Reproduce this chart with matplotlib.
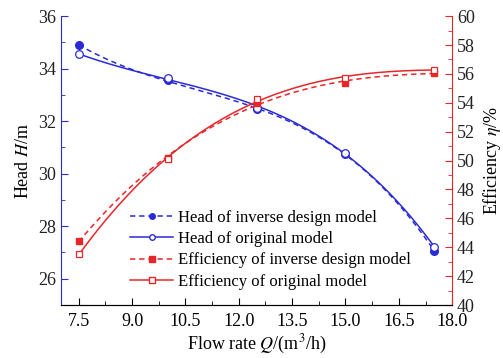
import numpy as np
import matplotlib.pyplot as plt
from matplotlib.lines import Line2D
from matplotlib.ticker import MultipleLocator

plt.rcParams['font.family'] = ['Liberation Serif', 'DejaVu Serif']
plt.rcParams['mathtext.fontset'] = 'stix'

# flow rate points (m3/h)
flow = [7.5, 10.0, 12.5, 15.0, 17.5]

# head (m)
head_inverse = [34.9, 33.55, 32.45, 30.75, 27.05]
head_original = [34.55, 33.65, 32.5, 30.8, 27.2]

# efficiency (%)
eff_inverse = [44.4, 50.2, 54.0, 55.4, 56.05]
eff_original = [43.5, 50.1, 54.25, 55.7, 56.3]

blue = '#2b2bd6'
red = '#e8262a'
dash = (3.5, 2.5)


def fit_curve(x, y, deg=3):
    """Smooth polynomial fit through the measured points."""
    coef = np.polyfit(x, y, deg)
    xs = np.linspace(min(x), max(x), 200)
    return xs, np.polyval(coef, xs)


fig = plt.figure(figsize=(5.03, 3.58), dpi=100)
ax = fig.add_axes([0.121, 0.148, 0.778, 0.807])
ax2 = ax.twinx()

# head curves on the left axis
xs, ys = fit_curve(flow, head_inverse)
ax.plot(xs, ys, color=blue, lw=1.1, dashes=dash)
xs, ys = fit_curve(flow, head_original)
ax.plot(xs, ys, color=blue, lw=1.1)
ax.plot(flow, head_inverse, 'o', color=blue, ms=5.5, zorder=3)
ax.plot(flow, head_original, 'o', mfc='white', mec=blue, mew=0.9, ms=5.5, zorder=4)

# efficiency curves on the right axis
xs, ys = fit_curve(flow, eff_inverse)
ax2.plot(xs, ys, color=red, lw=1.1, dashes=dash)
xs, ys = fit_curve(flow, eff_original)
ax2.plot(xs, ys, color=red, lw=1.1)
ax2.plot(flow, eff_inverse, 's', color=red, ms=5, zorder=3)
ax2.plot(flow, eff_original, 's', mfc='white', mec=red, mew=0.9, ms=5, zorder=4)

ax.set_xlim(7.0, 18.0)
ax.set_ylim(25, 36)
ax2.set_ylim(40, 60)

ax.xaxis.set_major_locator(MultipleLocator(1.5))
ax.xaxis.set_minor_locator(MultipleLocator(0.75))
ax.yaxis.set_major_locator(MultipleLocator(2))
ax.yaxis.set_minor_locator(MultipleLocator(1))
ax2.yaxis.set_major_locator(MultipleLocator(2))
ax2.yaxis.set_minor_locator(MultipleLocator(1))
ax.set_xticks([7.5, 9.0, 10.5, 12.0, 13.5, 15.0, 16.5, 18.0])
ax.set_yticks([26, 28, 30, 32, 34, 36])

for a in (ax, ax2):
    a.spines['top'].set_visible(False)
ax.spines['right'].set_visible(False)
ax.spines['left'].set_color(blue)
ax2.spines['left'].set_visible(False)
ax2.spines['right'].set_color(red)

ax.tick_params(axis='x', which='both', direction='in', labelsize=13, pad=6)
ax.tick_params(axis='x', which='major', length=5)
ax.tick_params(axis='x', which='minor', length=3)
ax.tick_params(axis='y', which='both', direction='in', colors=blue, labelcolor='#222222', labelsize=13)
ax.tick_params(axis='y', which='major', length=5)
ax.tick_params(axis='y', which='minor', length=3)
ax2.tick_params(axis='y', which='both', direction='in', colors=red, labelcolor='#222222', labelsize=13)
ax2.tick_params(axis='y', which='major', length=5)
ax2.tick_params(axis='y', which='minor', length=3)

ax.set_xlabel(r'Flow rate $Q$/(m$^3$/h)', fontsize=13, labelpad=2)
ax.set_ylabel(r'Head $H$/m', fontsize=13, labelpad=4)
ax2.set_ylabel(r'Efficiency $\eta$/%', fontsize=13, rotation=90, labelpad=4)

handles = [
    Line2D([], [], color=blue, lw=1.1, dashes=dash, marker='o', ms=4),
    Line2D([], [], color=blue, lw=1.1, marker='o', mfc='white', ms=4),
    Line2D([], [], color=red, lw=1.1, dashes=dash, marker='s', ms=4),
    Line2D([], [], color=red, lw=1.1, marker='s', mfc='white', ms=4),
]
labels = ['Head of inverse design model', 'Head of original model',
          'Efficiency of inverse design model', 'Efficiency of original model']
ax2.legend(handles, labels, loc='lower left', bbox_to_anchor=(0.16, 0.03),
           frameon=False, fontsize=12, handlelength=2.6, handletextpad=0.3,
           labelspacing=0.32, borderaxespad=0)

fig.savefig('out.png', dpi=100)
